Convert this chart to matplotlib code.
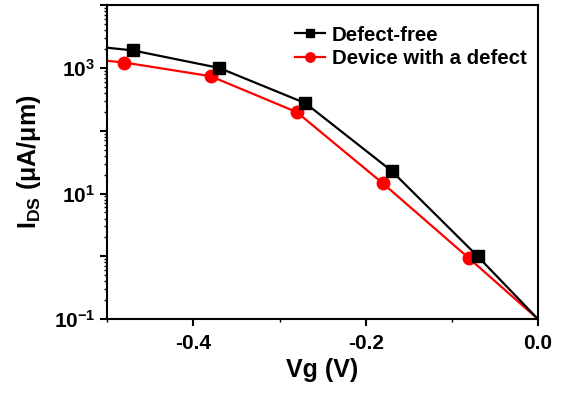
import numpy as np
import matplotlib
matplotlib.use("Agg")
import matplotlib.pyplot as plt
from matplotlib.ticker import LogLocator, FuncFormatter, MultipleLocator, NullFormatter

# Datos
vg_libre = [-0.5, -0.47, -0.37, -0.27, -0.17, -0.07, 0.0]
ids_libre = [2100, 1900, 1000, 275, 23, 1.0, 0.1]
vg_defecto = [-0.5, -0.48, -0.38, -0.28, -0.18, -0.08, 0.0]
ids_defecto = [1300, 1220, 740, 198, 14.5, 0.93, 0.1]
etiquetas = ["Defect-free", "Device with a defect"]

plt.rcParams['font.family'] = ['Liberation Sans', 'DejaVu Sans']
plt.rcParams['font.weight'] = 'bold'
plt.rcParams['mathtext.fontset'] = 'custom'
plt.rcParams['mathtext.bf'] = 'Liberation Sans:bold'
plt.rcParams['mathtext.rm'] = 'Liberation Sans:bold'

fig = plt.figure(figsize=(5.64, 3.96), dpi=100)
ax = fig.add_axes([0.190, 0.194, 0.764, 0.793])

marcas = list(range(1, 6))
ax.plot(vg_libre, ids_libre, color='black', lw=1.6, marker='s', ms=8,
        markevery=marcas, label=etiquetas[0], zorder=3)
ax.plot(vg_defecto, ids_defecto, color='red', lw=1.6, marker='o', ms=9,
        markevery=marcas, label=etiquetas[1], zorder=2)

ax.set_yscale('log')
ax.set_xlim(-0.5, 0.0)
ax.set_ylim(0.1, 1e4)

ax.xaxis.set_major_locator(MultipleLocator(0.2))
ax.xaxis.set_minor_locator(MultipleLocator(0.1))
ax.xaxis.set_major_formatter(FuncFormatter(lambda v, p: "%.1f" % v))
ax.yaxis.set_major_locator(LogLocator(base=10, numticks=20))
ax.yaxis.set_minor_locator(LogLocator(base=10, subs=np.arange(2, 10), numticks=20))
ax.yaxis.set_minor_formatter(NullFormatter())

def fmt_y(v, p):
    e = int(round(np.log10(v)))
    if e % 2 == 1:
        return r"$\mathbf{10^{%d}}$" % e
    return ""

ax.yaxis.set_major_formatter(FuncFormatter(fmt_y))

for s in ax.spines.values():
    s.set_linewidth(1.5)
ax.tick_params(which='major', direction='out', length=5, width=1.5, labelsize=15)
ax.tick_params(which='minor', direction='out', length=2.5, width=1.0)
ax.tick_params(axis='x', pad=6)

ax.set_xlabel("Vg (V)", fontsize=18, fontweight='bold', labelpad=3)
ax.set_ylabel(r"I$_{\mathbf{DS}}$ ($\mathbf{\mu}$A/$\mathbf{\mu}$m)", fontsize=18,
              fontweight='bold', labelpad=8)

ax.legend(loc='upper right', frameon=False, fontsize=14.7, handlelength=1.5,
          handletextpad=0.3, labelspacing=0.2, borderaxespad=0.6,
          markerscale=0.75, bbox_to_anchor=(1.02, 1.0))

fig.savefig("out.png", dpi=100)
